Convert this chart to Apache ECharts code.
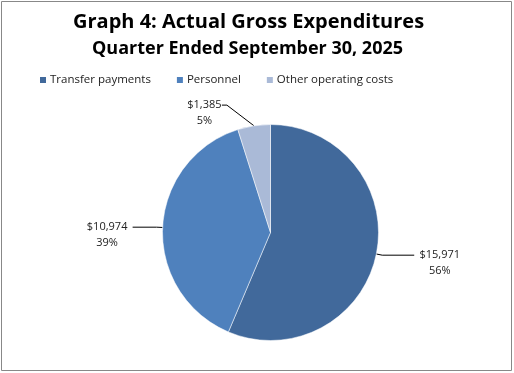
<!DOCTYPE html>
<html><head><meta charset="utf-8">
<script src="https://cdn.jsdelivr.net/npm/echarts@6/dist/echarts.min.js"></script>
<style>html,body{margin:0;padding:0;background:#fff}#c{width:514px;height:373px}</style>
</head><body><div id="c"></div>
<script>
const categories = ['Transfer payments', 'Personnel', 'Other operating costs'];
const values = [15971, 10974, 1385];
const percents = ['56%', '39%', '5%'];
const colors = ['#41699b', '#4f81bd', '#aabad7'];
const lineLen = [[6, 32], [6, 24], [30, 5]];

const chart = echarts.init(document.getElementById('c'));
const fmt = v => '$' + v.toLocaleString('en-US');
const ctx = document.createElement('canvas').getContext('2d');
ctx.font = '11px "Open Sans"';
const textW = s => Math.ceil(ctx.measureText(s).width);
chart.setOption({
  animation: false,
  graphic: [{type: 'rect', shape: {x: 1.5, y: 1.5, width: 510, height: 369}, style: {fill: 'none', stroke: '#888', lineWidth: 1}}],
  title: [
    {text: 'Graph 4: Actual Gross Expenditures', left: 68, top: 7,
     textStyle: {fontFamily: 'Open Sans', fontWeight: 'bold', fontSize: 20, color: '#000'}},
    {text: 'Quarter Ended September 30, 2025', left: 87, top: 35,
     textStyle: {fontFamily: 'Open Sans', fontWeight: 'bold', fontSize: 18, color: '#000'}}
  ],
  legend: {
    top: 69, left: 33, itemGap: 24, itemWidth: 8, itemHeight: 8, icon: 'rect',
    textStyle: {fontFamily: 'Open Sans', fontSize: 11.5, color: '#222', padding: [0, 0, 0, -2]},
    data: categories
  },
  series: [{
    type: 'pie', center: [270.5, 232.5], radius: 108, startAngle: 90, clockwise: true,
    avoidLabelOverlap: false,
    label: {fontFamily: 'Open Sans', fontSize: 11, color: '#222', lineHeight: 16},
    labelLine: {lineStyle: {color: '#000', width: 1}},
    labelLayout: p => p.dataIndex === 2 ? {
      x: p.labelRect.x + p.labelRect.width / 2,
      y: p.labelRect.y + p.labelRect.height / 2 + 9
    } : {},
    data: categories.map((c, i) => ({
      name: c, value: values[i], itemStyle: {color: colors[i], borderColor: '#fff', borderWidth: 0.5},
      label: {
        formatter: '{c| }\n{c|' + fmt(values[i]) + '}\n{c|' + percents[i] + '}',
        rich: {c: {width: textW(fmt(values[i])), align: 'center', fontFamily: 'Open Sans', fontSize: 11, color: '#222', lineHeight: 16}}
      },
      labelLine: {length: lineLen[i][0], length2: lineLen[i][1]}
    }))
  }]
});
</script></body></html>
